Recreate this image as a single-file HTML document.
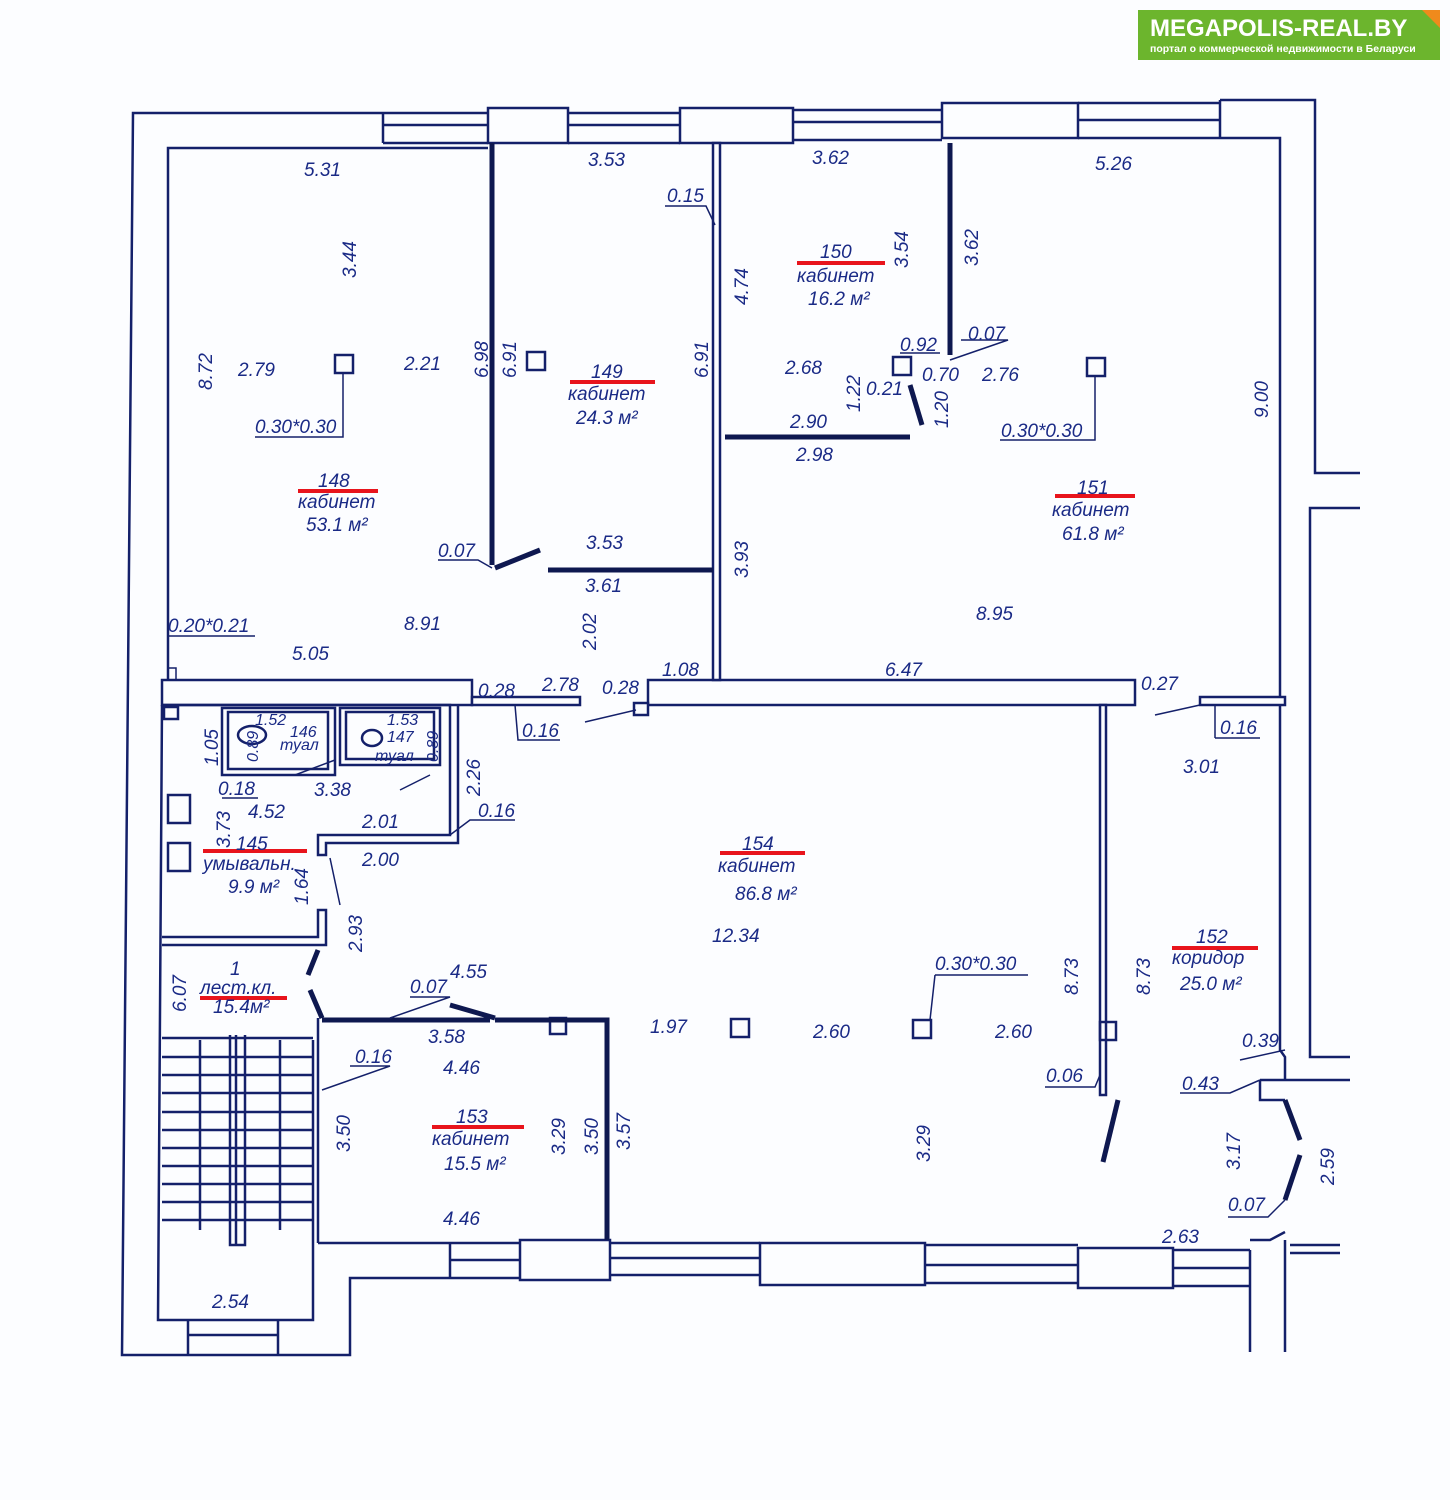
<!DOCTYPE html>
<html><head><meta charset="utf-8"><style>
html,body{margin:0;padding:0;background:#fcfdff;}
svg{display:block}
text{font-family:"Liberation Sans","DejaVu Sans",sans-serif;font-style:italic;fill:#1a2a86;font-size:19px}
</style></head><body>
<svg width="1450" height="1500" viewBox="0 0 1450 1500" xmlns="http://www.w3.org/2000/svg">
<rect width="1450" height="1500" fill="#fcfdff"/>
<!-- logo -->
<rect x="1138" y="10" width="302" height="50" fill="#6cb52d"/>
<polygon points="1422,10 1440,10 1440,28" fill="#f08a1c"/>
<text x="1150" y="36" style="font-style:normal;font-weight:bold;font-size:24px;fill:#fff">MEGAPOLIS-REAL.BY</text>
<text x="1150" y="52" style="font-style:normal;font-weight:bold;font-size:10.5px;fill:#fff">портал о коммерческой недвижимости в Беларуси</text>

<g fill="none" stroke="#14206a" stroke-width="2.5">
<!-- outer shell -->
<path d="M383,113 L133,113 L122,1355 L188,1355"/>
<path d="M278,1355 L350,1355 L350,1278 L450,1278"/>
<path d="M1220,100 L1315,100 L1315,473 L1360,473"/>
<path d="M1360,508 L1310,508 L1310,1057 L1350,1057"/>
<path d="M1220,100 L1220,138"/>
<!-- top windows -->
<path d="M383,113 L488,113 M383,125 L488,125 M383,143 L488,143 M383,113 L383,143"/>
<rect x="488" y="108" width="80" height="35" fill="#fcfdff"/>
<path d="M568,113 L680,113 M568,125 L680,125"/>
<rect x="680" y="108" width="113" height="35" fill="#fcfdff"/>
<path d="M793,110 L942,110 M793,122 L942,122"/>
<rect x="942" y="103" width="136" height="35" fill="#fcfdff"/>
<path d="M1078,103 L1220,103 M1078,120 L1220,120"/>
<!-- inner top -->
<path d="M168,680 L168,148 L488,148 M568,143 L680,143 M793,140 L942,140 M1078,138 L1280,138 L1280,1050 L1285,1057 L1285,1080"/>
<path d="M1260,1080 L1350,1080 M1260,1080 L1260,1100 L1285,1100"/>
<path d="M1285,1240 L1285,1352 M1250,1240 L1270,1240 L1285,1232 M1250,1250 L1250,1352 M1290,1245 L1340,1245 M1290,1253 L1340,1253"/>
<!-- bottom windows -->
<path d="M318,1243 L450,1243 M450,1243 L520,1243 M450,1260 L520,1260 M450,1278 L520,1278 M450,1243 L450,1278"/>
<rect x="520" y="1240" width="90" height="40" fill="#fcfdff"/>
<path d="M610,1243 L760,1243 M610,1258 L760,1258 M610,1275 L760,1275"/>
<rect x="760" y="1243" width="165" height="42" fill="#fcfdff"/>
<path d="M925,1245 L1078,1245 M925,1265 L1078,1265 M925,1283 L1078,1283"/>
<rect x="1078" y="1248" width="95" height="40" fill="#fcfdff"/>
<path d="M1173,1250 L1250,1250 M1173,1268 L1250,1268 M1173,1286 L1250,1286"/>
<!-- stair box -->
<path d="M162,705 L158,1320 L188,1320 M278,1320 L313,1320 L313,1040 M318,1243 L318,1018"/>
<path d="M188,1320 L278,1320 M188,1335 L278,1335 M188,1355 L278,1355 M188,1320 L188,1355 M278,1320 L278,1355"/>
<!-- horizontal corridor walls -->
<rect x="162" y="680" width="310" height="25" fill="#fcfdff"/>
<rect x="472" y="697" width="108" height="8" fill="#fcfdff"/>
<rect x="648" y="680" width="487" height="25" fill="#fcfdff"/>
<rect x="1200" y="697" width="85" height="8" fill="#fcfdff"/>
<rect x="634" y="703" width="14" height="12" fill="#fcfdff"/>
<rect x="713" y="143" width="7" height="537" fill="#fcfdff"/>
<rect x="1100" y="705" width="6" height="390" fill="#fcfdff"/>
<!-- toilets -->
<rect x="222" y="708" width="113" height="67" fill="#fcfdff"/>
<rect x="228" y="712" width="100" height="57"/>
<rect x="340" y="708" width="100" height="57" fill="#fcfdff"/>
<rect x="346" y="712" width="88" height="47"/>
<ellipse cx="252" cy="735" rx="14" ry="9"/>
<ellipse cx="372" cy="738" rx="10" ry="8"/>
<path d="M162,705 L450,705 L450,835 L318,835 L318,855 L326,855 L326,843 L458,843 L458,705"/>
<rect x="164" y="707" width="14" height="12"/>
<path d="M162,937 L318,937 L318,910 L326,910 L326,945 L162,945"/>
<rect x="168" y="795" width="22" height="28"/>
<rect x="168" y="843" width="22" height="28"/>
<!-- stairs -->
<path d="M162,1038 L313,1038 M162,1057 L313,1057 M162,1075 L313,1075 M162,1093 L313,1093 M162,1112 L313,1112 M162,1130 L313,1130 M162,1148 L313,1148 M162,1166 L313,1166 M162,1184 L313,1184 M162,1202 L313,1202 M162,1220 L313,1220"/>
<path d="M230,1035 L230,1245 L245,1245 L245,1035 M236,1035 L236,1245 M200,1040 L200,1230 M280,1040 L280,1230"/>
<!-- columns -->
<rect x="335" y="355" width="18" height="18"/>
<rect x="527" y="352" width="18" height="18"/>
<rect x="1087" y="358" width="18" height="18"/>
<rect x="893" y="357" width="18" height="18"/>
<rect x="731" y="1019" width="18" height="18"/>
<rect x="913" y="1020" width="18" height="18"/>
<rect x="550" y="1018" width="16" height="16"/>
<rect x="1100" y="1022" width="16" height="18"/>
</g>
<g stroke="#0e1850" stroke-width="5" fill="none" stroke-linecap="butt">
<path d="M492,143 L492,565"/>
<path d="M495,568 L540,550"/>
<path d="M548,570 L713,570"/>
<path d="M950,143 L950,355"/>
<path d="M725,437 L910,437"/>
<path d="M910,385 L922,425"/>
<path d="M1118,1100 L1103,1162"/>
<path d="M318,950 L308,975 M310,990 L322,1018"/>
<path d="M322,1020 L490,1020 M450,1005 L495,1018 M495,1020 L607,1020 L607,1240"/>
<path d="M1285,1100 L1300,1140 M1300,1155 L1285,1200"/>
</g>
<!-- thin leader lines -->
<g stroke="#14206a" stroke-width="1.5" fill="none">
<path d="M255,437 L343,437 L343,373 M1000,440 L1095,440 L1095,376 M665,206 L706,206 L715,225 M438,560 L478,560 L492,568 M168,636 L255,636 M168,668 L176,668 L176,680 M518,740 L560,740 L518,740 L515,705 M585,722 L636,710 M1215,738 L1260,738 M1215,738 L1215,705 M1155,715 L1200,705 M935,975 L1028,975 M935,975 L930,1020 M410,997 L450,997 L390,1018 M350,1066 L390,1066 L322,1090 M1180,1093 L1230,1093 L1260,1080 M1240,1060 L1285,1050 M1045,1087 L1095,1087 L1100,1075 M1228,1217 L1268,1217 L1285,1200 M450,835 L470,820 L515,820 M330,858 L340,905 M222,798 L258,798 M961,340 L1008,340 L950,360 M900,353 L940,353 M295,775 L335,760 M400,790 L430,775 M478,697 L518,697"/>
</g>
<!-- red bars -->
<g fill="#e8141c">
<rect x="298" y="489" width="80" height="4"/>
<rect x="570" y="380" width="85" height="4"/>
<rect x="797" y="261" width="88" height="4"/>
<rect x="1055" y="494" width="80" height="4"/>
<rect x="720" y="851" width="85" height="4"/>
<rect x="203" y="849" width="104" height="4"/>
<rect x="200" y="996" width="87" height="4"/>
<rect x="432" y="1125" width="92" height="4"/>
<rect x="1172" y="946" width="86" height="4"/>
</g>
<!-- labels -->
<g>
<text x="304" y="176">5.31</text>
<text x="588" y="166">3.53</text>
<text x="812" y="164">3.62</text>
<text x="1095" y="170">5.26</text>
<text x="667" y="202">0.15</text>
<text x="238" y="376">2.79</text>
<text x="404" y="370">2.21</text>
<text x="255" y="433">0.30*0.30</text>
<text x="1001" y="437">0.30*0.30</text>
<text x="318" y="487">148</text>
<text x="298" y="508">кабинет</text>
<text x="306" y="531">53.1 м²</text>
<text x="591" y="378">149</text>
<text x="568" y="400">кабинет</text>
<text x="576" y="424">24.3 м²</text>
<text x="820" y="258">150</text>
<text x="797" y="282">кабинет</text>
<text x="808" y="305">16.2 м²</text>
<text x="1077" y="494">151</text>
<text x="1052" y="516">кабинет</text>
<text x="1062" y="540">61.8 м²</text>
<text x="900" y="351">0.92</text>
<text x="968" y="340">0.07</text>
<text x="922" y="381">0.70</text>
<text x="982" y="381">2.76</text>
<text x="785" y="374">2.68</text>
<text x="866" y="395">0.21</text>
<text x="790" y="428">2.90</text>
<text x="796" y="461">2.98</text>
<text x="438" y="557">0.07</text>
<text x="586" y="549">3.53</text>
<text x="585" y="592">3.61</text>
<text x="168" y="632">0.20*0.21</text>
<text x="404" y="630">8.91</text>
<text x="292" y="660">5.05</text>
<text x="976" y="620">8.95</text>
<text x="662" y="676">1.08</text>
<text x="885" y="676">6.47</text>
<text x="478" y="697">0.28</text>
<text x="542" y="691">2.78</text>
<text x="602" y="694">0.28</text>
<text x="1141" y="690">0.27</text>
<text x="522" y="737">0.16</text>
<text x="1220" y="734">0.16</text>
<text x="1183" y="773">3.01</text>
<text x="255" y="725" style="font-size:16px">1.52</text>
<text x="290" y="737" style="font-size:16px">146</text>
<text x="280" y="750" style="font-size:16px">туал</text>
<text x="387" y="725" style="font-size:16px">1.53</text>
<text x="387" y="742" style="font-size:16px">147</text>
<text x="375" y="761" style="font-size:16px">туал</text>
<text x="218" y="795">0.18</text>
<text x="314" y="796">3.38</text>
<text x="248" y="818">4.52</text>
<text x="362" y="828">2.01</text>
<text x="478" y="817">0.16</text>
<text x="362" y="866">2.00</text>
<text x="236" y="850">145</text>
<text x="203" y="870">умывальн.</text>
<text x="228" y="893">9.9 м²</text>
<text x="742" y="850">154</text>
<text x="718" y="872">кабинет</text>
<text x="735" y="900">86.8 м²</text>
<text x="712" y="942">12.34</text>
<text x="935" y="970">0.30*0.30</text>
<text x="1196" y="943">152</text>
<text x="1172" y="964">коридор</text>
<text x="1180" y="990">25.0 м²</text>
<text x="230" y="975">1</text>
<text x="200" y="994">лест.кл.</text>
<text x="213" y="1013">15.4м²</text>
<text x="450" y="978">4.55</text>
<text x="410" y="993">0.07</text>
<text x="428" y="1043">3.58</text>
<text x="650" y="1033">1.97</text>
<text x="813" y="1038">2.60</text>
<text x="995" y="1038">2.60</text>
<text x="1242" y="1047">0.39</text>
<text x="355" y="1063">0.16</text>
<text x="443" y="1074">4.46</text>
<text x="1046" y="1082">0.06</text>
<text x="1182" y="1090">0.43</text>
<text x="456" y="1123">153</text>
<text x="432" y="1145">кабинет</text>
<text x="444" y="1170">15.5 м²</text>
<text x="443" y="1225">4.46</text>
<text x="1228" y="1211">0.07</text>
<text x="1162" y="1243">2.63</text>
<text x="212" y="1308">2.54</text>
</g>
<!-- rotated labels -->
<g>
<text transform="translate(356,278) rotate(-90)">3.44</text>
<text transform="translate(212,390) rotate(-90)">8.72</text>
<text transform="translate(488,378) rotate(-90)">6.98</text>
<text transform="translate(516,378) rotate(-90)">6.91</text>
<text transform="translate(708,378) rotate(-90)">6.91</text>
<text transform="translate(748,305) rotate(-90)">4.74</text>
<text transform="translate(908,268) rotate(-90)">3.54</text>
<text transform="translate(978,266) rotate(-90)">3.62</text>
<text transform="translate(860,412) rotate(-90)">1.22</text>
<text transform="translate(948,428) rotate(-90)">1.20</text>
<text transform="translate(1268,418) rotate(-90)">9.00</text>
<text transform="translate(748,578) rotate(-90)">3.93</text>
<text transform="translate(596,650) rotate(-90)">2.02</text>
<text transform="translate(218,766) rotate(-90)">1.05</text>
<text transform="translate(258,762) rotate(-90)" style="font-size:16px">0.89</text>
<text transform="translate(438,762) rotate(-90)" style="font-size:16px">0.89</text>
<text transform="translate(480,796) rotate(-90)">2.26</text>
<text transform="translate(230,848) rotate(-90)">3.73</text>
<text transform="translate(308,905) rotate(-90)">1.64</text>
<text transform="translate(362,952) rotate(-90)">2.93</text>
<text transform="translate(186,1012) rotate(-90)">6.07</text>
<text transform="translate(1078,995) rotate(-90)">8.73</text>
<text transform="translate(1150,995) rotate(-90)">8.73</text>
<text transform="translate(350,1152) rotate(-90)">3.50</text>
<text transform="translate(565,1155) rotate(-90)">3.29</text>
<text transform="translate(598,1155) rotate(-90)">3.50</text>
<text transform="translate(630,1150) rotate(-90)">3.57</text>
<text transform="translate(930,1162) rotate(-90)">3.29</text>
<text transform="translate(1240,1170) rotate(-90)">3.17</text>
<text transform="translate(1334,1185) rotate(-90)">2.59</text>
</g>
</svg>
</body></html>
